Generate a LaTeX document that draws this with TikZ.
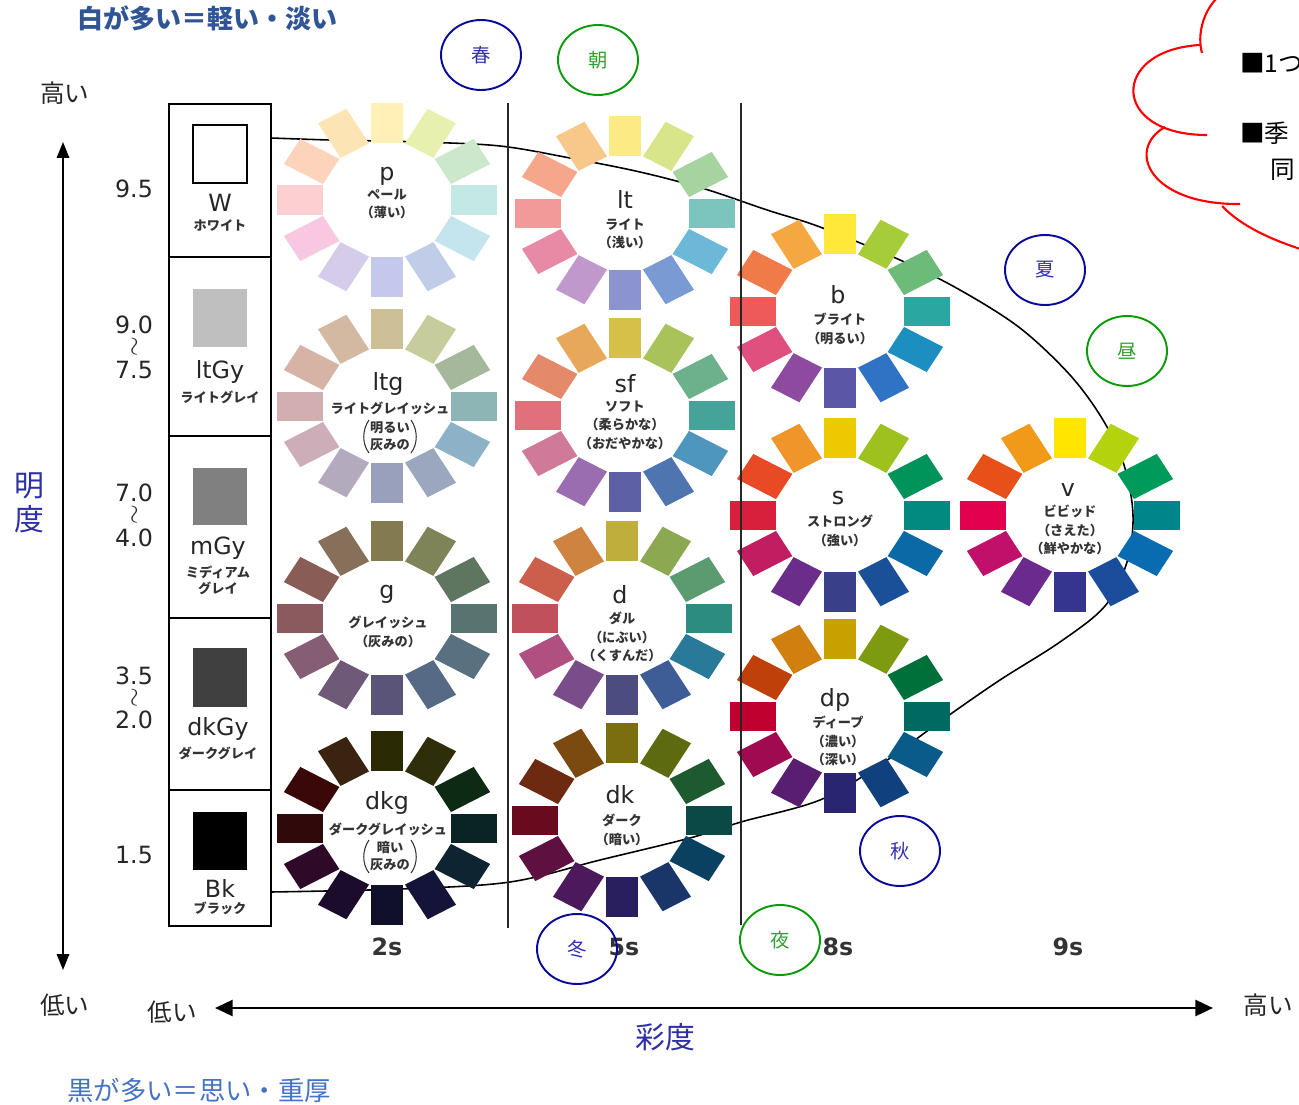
\documentclass[tikz,border=0pt]{standalone}
\usepackage{fontspec}
\usepackage{graphicx}
\usetikzlibrary{arrows.meta,shapes.geometric}
\newfontfamily\jp{Noto Sans CJK JP}
\newfontfamily\lab{DejaVu Sans}
\definecolor{topblue}{HTML}{2F5597}
\definecolor{botblue}{HTML}{4472C4}
\definecolor{axblue}{HTML}{2E2EA6}
\definecolor{cblue}{HTML}{0A0A9A}
\definecolor{cgreen}{HTML}{0A9A0A}
\definecolor{tblue}{HTML}{3030B0}
\definecolor{tgreen}{HTML}{30A030}
\newcommand\wheel[3]{%
  \foreach \cc [count=\i from 0] in {#3}{%
    \definecolor{wc}{HTML}{\cc}%
    \fill[wc, shift={(#1,#2)}, xscale=1.13, rotate={90-30*\i}] (57,-14.5) rectangle (97,14.5);
  }}
\newcommand\squig{\rotatebox{90}{$\sim$}}
\tikzset{
  tone/.style={font=\lab\fontsize{13.5}{14}\selectfont, text=black!85, inner sep=0pt},
  jsub/.style={font=\jp\bfseries\fontsize{7.5}{10.5}\selectfont, text=black!80, align=center, inner sep=0pt},
  num/.style={font=\lab\fontsize{13.5}{14}\selectfont, text=black!85, inner sep=0pt},
  squigs/.style={font=\fontsize{15}{15}\selectfont, text=black!85, inner sep=0pt},
  chroma/.style={font=\lab\bfseries\fontsize{13.5}{14}\selectfont, text=black!80, inner sep=0pt},
  jbig/.style={font=\jp\fontsize{14}{16}\selectfont, text=black!85, inner sep=0pt},
  axlabel/.style={font=\jp\fontsize{17}{20}\selectfont, text=axblue, inner sep=0pt},
  season/.style={draw=cblue, line width=1.1pt, ellipse, minimum width=1.6cm, minimum height=1.4cm, inner sep=0pt, text=tblue, font=\jp\fontsize{11}{12}\selectfont},
  seasong/.style={season, draw=cgreen, text=tgreen},
  frame/.style={line width=1.2pt, draw=black},
  swatch/.style={line width=1.2pt},
  curveline/.style={line width=0.9pt, black},
  sep/.style={line width=1.2pt, black!85},
  paren/.style={line width=0.6pt, black!80},
  cloud/.style={red, line width=1.2pt},
  cloudtext/.style={font=\jp\fontsize{14}{16}\selectfont, anchor=west, inner sep=0pt},
}
\begin{document}
\begin{tikzpicture}[x=0.02cm, y=-0.02cm]
\useasboundingbox (0,0) rectangle (1299,1105);

% big curve (under the wheels)
\coordinate (wR) at (271,138);
\coordinate (bkR) at (271,892);
\draw[curveline] plot[smooth, tension=0.55] coordinates {(271,138) (330,140) (420,142) (500,146) (570,158) (640,172) (705,189) (767,210) (820,227) (900,260) (960,290) (1020,328) (1070,375) (1103,420) (1124,465) (1133,515) (1127,562) (1105,606) (1060,642) (1000,680) (945,718) (880,765) (820,800) (741,822) (690,838) (600,860) (510,882) (400,889) (271,892)};

% wheels
\wheel{387}{200}{FFF0B8,E8F0B0,CCE8CC,C4E8E4,C4E4EE,C0CCE8,C4C8EC,D4CCE8,F8C8E0,FCD0D0,FCD4BC,FCE4B4}
\wheel{625}{213}{FCEB85,D9E58A,A6D3A0,7CC4BE,6BB8D8,7A9AD4,8C94D0,C098CC,E88AA6,F29A9A,F6A68A,F8C88A}
\wheel{840}{311}{FFE83A,A6CC3A,6DBB78,2AA7A0,1C8FC0,2F74C4,5A58A6,8E4A9E,E0507E,EE5A5A,F07A48,F5A842}
\wheel{387}{406}{CDC096,C6CC9C,A5B89C,8EB5B5,8DB2C8,9AA7BE,99A0BC,B3AABD,CDAEB8,D3AEB0,D6B3A5,D3B8A2}
\wheel{625}{415}{D6C04A,A9C25A,6CB08C,45A39A,4F96BC,4E75B0,5E60A6,9A6CB0,D07A9A,E0707A,E48A6A,E8A85A}
\wheel{840}{515}{EEC800,9DC21F,00945A,008A80,0B6AA6,1A5098,3A3F8A,6A2D8A,C01E60,D8203C,E84A25,F0952A}
\wheel{1070}{515}{FFE500,B5D20F,009A5A,00858A,0A6CB0,1A4D9C,35348E,6A2A8E,C0106A,E3004F,E8501A,F19A1A}
\wheel{387}{618}{837A50,7E8458,5E7660,577470,587080,566A86,5A5478,6E5A78,865E74,8A5A5E,8A5C56,87705A}
\wheel{622}{618}{C0AE3C,8CA850,5C9A70,2C8C80,287A98,3E5C96,4C4C80,7A4C8A,B05080,C0505A,CC5E4C,CE8440}
\wheel{840}{716}{C8A000,7E9A10,00703A,006A62,0A5A8A,10407E,2A2570,5A1E70,A00A50,C0002E,C0400A,CF800E}
\wheel{387}{828}{2A2A05,2E2E0A,0C2A14,0A2424,0E2430,14143A,10102A,1C0C2C,2E0A28,300A0A,3A0808,3A2410}
\wheel{622}{820}{7A6E10,5E6A10,1E5A30,0A4A46,0A4060,1A3568,2A1F5E,4C1A5C,5E1040,6A0A1E,6E2A10,7A4A10}

% wheel labels
\node[tone] (pL) at (387,176) {p};
\node[jsub] (pJ) at (387,204) {ペール\\（薄い）};
\node[tone] (ltL) at (625,199) {lt};
\node[jsub] (ltJ) at (625,234) {ライト\\（浅い）};
\node[tone] (bL) at (838,295) {b};
\node[jsub] (bJ) at (840,329) {ブライト\\（明るい）};
\node[tone] (ltgL) at (388,384) {ltg};
\node[jsub] (ltgJ) at (390,408) {ライトグレイッシュ};
\node[jsub, font=\jp\bfseries\fontsize{7.5}{9.5}\selectfont] (ltgP) at (390,436) {明るい\\灰みの};
\draw[paren] (369,420) .. controls (362,430) and (362,444) .. (369,453);
\draw[paren] (411,420) .. controls (418,430) and (418,444) .. (411,453);
\node[tone] (sfL) at (625,384) {sf};
\node[jsub] (sfJ) at (625,425) {ソフト\\（柔らかな）\\（おだやかな）};
\node[tone] (sL) at (838,498) {s};
\node[jsub] (sJ) at (840,531) {ストロング\\（強い）};
\node[tone] (vL) at (1068,490) {v};
\node[jsub] (vJ) at (1070,530) {ビビッド\\（さえた）\\（鮮やかな）};
\node[tone] (gL) at (387,594) {g};
\node[jsub] (gJ) at (388,632) {グレイッシュ\\（灰みの）};
\node[tone] (dL) at (620,595) {d};
\node[jsub] (dJ) at (622,637) {ダル\\（にぶい）\\（くすんだ）};
\node[tone] (dpL) at (835,700) {dp};
\node[jsub] (dpJ) at (838,741) {ディープ\\（濃い）\\（深い）};
\node[tone] (dkgL) at (387,803) {dkg};
\node[jsub] (dkgJ) at (388,829) {ダークグレイッシュ};
\node[jsub, font=\jp\bfseries\fontsize{7.5}{9.5}\selectfont] (dkgP) at (390,856) {暗い\\灰みの};
\draw[paren] (369,840) .. controls (362,850) and (362,864) .. (369,873);
\draw[paren] (411,840) .. controls (418,850) and (418,864) .. (411,873);
\node[tone] (dkL) at (620,795) {dk};
\node[jsub] (dkJ) at (622,830) {ダーク\\（暗い）};

% separators
\draw[sep] (508,103) -- (508,928);
\draw[sep] (741,103) -- (741,925);

% gray column
\draw[frame] (169,104) rectangle (271,926);
\foreach \yy in {257,436,618,790} \draw[frame] (169,\yy) -- (271,\yy);
\draw[swatch, fill=white] (193,125) rectangle (247,183);
\fill[black!25] (193,289) rectangle (247,347);
\fill[black!50] (193,468) rectangle (247,525);
\fill[black!75] (193,648) rectangle (247,707);
\fill[black] (193,812) rectangle (247,870);
\node[tone] (W) at (220,203) {W};
\node[jsub] (Wj) at (220,225) {ホワイト};
\node[tone] (ltGy) at (220,372) {ltGy};
\node[jsub] (ltGyj) at (220,397) {ライトグレイ};
\node[tone] (mGy) at (218,548) {mGy};
\node[jsub, font=\jp\bfseries\fontsize{7.5}{9}\selectfont] (mGyj) at (218,580) {ミディアム\\グレイ};
\node[tone] (dkGy) at (218,729) {dkGy};
\node[jsub] (dkGyj) at (218,753) {ダークグレイ};
\node[tone] (Bk) at (220,888) {Bk};
\node[jsub] (Bkj) at (220,908) {ブラック};

% value numbers
\node[num] (n95) at (134,189) {9.5};
\node[num] (n90) at (134,325) {9.0};
\node[squigs] (s1) at (136,347) {\squig};
\node[num] (n75) at (134,370) {7.5};
\node[num] (n70) at (134,493) {7.0};
\node[squigs] (s2) at (136,515) {\squig};
\node[num] (n40) at (134,538) {4.0};
\node[num] (n35) at (134,676) {3.5};
\node[squigs] (s3) at (136,698) {\squig};
\node[num] (n20) at (134,720) {2.0};
\node[num] (n15) at (134,855) {1.5};

% chroma labels
\node[chroma] (c2) at (387,947) {2s};
\node[chroma] (c5) at (624,947) {5s};
\node[chroma] (c8) at (838,947) {8s};
\node[chroma] (c9) at (1068,947) {9s};

% axes
\coordinate (vtop) at (63,142);
\coordinate (vbot) at (63,970);
\draw[line width=1pt, {Triangle[length=9pt,width=7pt]}-{Triangle[length=9pt,width=7pt]}] (vtop) -- (vbot);
\coordinate (hl) at (215,1008);
\coordinate (hr) at (1213,1008);
\draw[line width=1.6pt, {Triangle[length=10pt,width=9pt]}-{Triangle[length=10pt,width=9pt]}] (hl) -- (hr);
\node[jbig] (hiV) at (65,93) {高い};
\node[jbig] (loV) at (65,1005) {低い};
\node[jbig] (loH) at (172,1012) {低い};
\node[jbig] (hiH) at (1268,1005) {高い};
\node[axlabel, align=center, font=\jp\fontsize{17}{19}\selectfont] (meido) at (29,503) {明\\度};
\node[axlabel] (saido) at (665,1037) {彩度};

% header / footer text
\node[font=\jp\bfseries\fontsize{14.8}{16}\selectfont, text=topblue, anchor=west, inner sep=0pt] (top) at (77,18) {白が多い＝軽い・淡い};
\node[font=\jp\fontsize{15}{16}\selectfont, text=botblue, anchor=west, inner sep=0pt] (bot) at (67,1090) {黒が多い＝思い・重厚};

% season / time ellipses
\node[season] (haru) at (481,55) {春};
\node[seasong] (asa) at (598,60) {朝};
\node[season] (natsu) at (1045,270) {夏};
\node[seasong] (hiru) at (1127,351) {昼};
\node[season] (aki) at (900,851) {秋};
\node[season] (fuyu) at (577,949) {冬};
\node[seasong] (yoru) at (780,940) {夜};

% cloud
\draw[cloud] (1217,-2) .. controls (1203,12) and (1197,35) .. (1202,53);
\draw[cloud] (1200,45) .. controls (1110,50) and (1110,135) .. (1207,135);
\draw[cloud] (1165,127) .. controls (1125,150) and (1150,205) .. (1240,204);
\draw[cloud] (1222,206) .. controls (1240,225) and (1270,240) .. (1310,252);
\node[cloudtext] (cl1) at (1240,63) {■1つ};
\node[cloudtext] (cl2) at (1240,133) {■季};
\node[cloudtext] (cl3) at (1270,170) {同};
\end{tikzpicture}
\end{document}
